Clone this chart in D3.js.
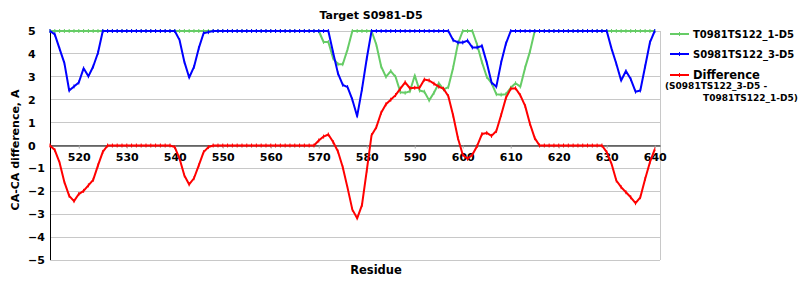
<!DOCTYPE html>
<html>
<head>
<meta charset="utf-8">
<script src="https://cdn.jsdelivr.net/npm/d3@7"></script>
<style>
  body { margin: 0; background: #fff; }
  svg { display: block; font-family: "DejaVu Sans", Verdana, sans-serif; font-weight: bold; }
</style>
</head>
<body>
<div id="chart"></div>
<script>
// residue numbers 514..640
const residues = d3.range(514, 641);

const greenSeries = [
    5, 5, 5, 5, 5, 5,
    5, 5, 5, 5, 5, 5, 5, 5, 5, 5,
    5, 5, 5, 5, 5, 5, 5, 5, 5, 5,
    5, 5, 5, 5, 5, 5, 5, 5, 5, 5,
    5, 5, 5, 5, 5, 5, 5, 5, 5, 5,
    5, 5, 5, 5, 5, 5, 5, 5, 5, 5,
    5, 4.52, 4.52, 3.8, 3.55, 3.55, 4.2, 5, 5, 5,
    5, 5, 4.4, 3.45, 3.0, 3.25, 3.0, 2.33, 2.3, 2.37,
    3.06, 2.4, 2.35, 1.97, 2.3, 2.72, 2.45, 2.55, 3.4, 4.45,
    5, 5, 5, 4.4, 3.64, 3.0, 2.72, 2.24, 2.22, 2.24,
    2.52, 2.72, 2.57, 3.4, 4.1, 5, 5, 5, 5, 5,
    5, 5, 5, 5, 5, 5, 5, 5, 5, 5,
    5, 5, 5, 5, 5, 5, 5, 5, 5, 5,
    5
];

const blueSeries = [
    5, 4.85, 4.22, 3.6, 2.4, 2.58,
    2.75, 3.37, 3.02, 3.45, 4.05, 5, 5, 5, 5, 5,
    5, 5, 5, 5, 5, 5, 5, 5, 5, 5,
    5, 4.6, 3.65, 2.97, 3.43, 4.25, 4.9, 4.95, 5, 5,
    5, 5, 5, 5, 5, 5, 5, 5, 5, 5,
    5, 5, 5, 5, 5, 5, 5, 5, 5, 5,
    5, 5, 5, 4.05, 3.15, 2.65, 2.55, 2.0, 1.28, 2.45,
    3.8, 5, 5, 5, 5, 5, 5, 5, 5, 5,
    5, 5, 5, 5, 5, 5, 5, 5, 4.6, 4.5,
    4.5, 4.58, 4.28, 4.28, 4.35, 3.62, 2.75, 2.57, 3.62, 4.45,
    5, 5, 5, 5, 5, 5, 5, 5, 5, 5,
    5, 5, 5, 5, 5, 5, 5, 5, 5, 5,
    5, 4.23, 3.57, 2.84, 3.25, 2.9, 2.35, 2.4, 3.45, 4.5,
    5
];

const diffSeries = [
    0, -0.2, -0.75, -1.6, -2.2, -2.43,
    -2.12, -1.98, -1.74, -1.5, -0.87, -0.28, 0, 0, 0, 0,
    0, 0, 0, 0, 0, 0, 0, 0, 0, 0,
    -0.07, -0.58, -1.31, -1.7, -1.43, -0.87, -0.29, -0.07, 0, 0,
    0, 0, 0, 0, 0, 0, 0, 0, 0, 0,
    0, 0, 0, 0, 0, 0, 0, 0, 0, 0,
    0.22, 0.39, 0.48, 0.15, -0.26, -0.95, -1.85, -2.8, -3.18, -2.6,
    -1.1, 0.45, 0.8, 1.43, 1.8, 2.0, 2.2, 2.48, 2.76, 2.5,
    2.52, 2.52, 2.88, 2.84, 2.7, 2.57, 2.48, 2.15, 1.31, 0.32,
    -0.4, -0.58, -0.4, -0.02, 0.5, 0.55, 0.42, 0.63, 1.33, 2.08,
    2.48, 2.5, 2.19, 1.73, 0.95, 0.32, 0, 0, 0, 0,
    0, 0, 0, 0, 0, 0, 0, 0, 0, 0,
    -0.29, -0.8, -1.53, -1.82, -2.04, -2.26, -2.52, -2.26, -1.46, -0.73,
    -0.17
];

const xTicks = [520, 530, 540, 550, 560, 570, 580, 590, 600, 610, 620, 630, 640];
const yTicks = [5, 4, 3, 2, 1, 0, -1, -2, -3, -4, -5];

const seriesNames = ["T0981TS122_1-D5", "S0981TS122_3-D5", "Difference"];
const seriesColors = ["#66cc66", "#0000ff", "#ff0000"];

const width = 800, height = 300;
const plot = { left: 50, right: 660, top: 31, bottom: 260 };

const svg = d3.select("#chart").append("svg")
    .attr("width", width)
    .attr("height", height);

const x = d3.scaleLinear().domain([514, 641.1]).range([plot.left, plot.right]);
const y = d3.scaleLinear().domain([-5, 5]).range([plot.bottom, plot.top]);

// horizontal grid
svg.append("g")
    .selectAll("line")
    .data(yTicks)
    .enter()
    .append("line")
    .attr("x1", plot.left)
    .attr("x2", plot.right)
    .attr("y1", d => y(d))
    .attr("y2", d => y(d))
    .attr("stroke", "#c8c8c8")
    .attr("stroke-width", 1)
    .attr("shape-rendering", "crispEdges");

// right border
svg.append("line")
    .attr("x1", plot.right).attr("x2", plot.right)
    .attr("y1", plot.top).attr("y2", plot.bottom)
    .attr("stroke", "#c8c8c8")
    .attr("shape-rendering", "crispEdges");

// y axis labels (left aligned like the original)
svg.append("g")
    .selectAll("text")
    .data(yTicks)
    .enter()
    .append("text")
    .attr("x", 28)
    .attr("y", d => y(d) + 4)
    .style("font-size", "11px")
    .attr("fill", "#000")
    .text(d => d < 0 ? "\u2212" + Math.abs(d) : d);

// x axis sitting on the zero line
const xAxis = svg.append("g")
    .attr("transform", `translate(0, ${y(0)})`)
    .call(d3.axisBottom(x).tickValues(xTicks).tickSize(3).tickSizeOuter(0).tickPadding(5));
xAxis.select(".domain").attr("stroke", "#000");
xAxis.selectAll(".tick line").attr("stroke", "#aaa");
xAxis.selectAll(".tick text")
    .attr("fill", "#000")
    .style("font-family", "'DejaVu Sans', Verdana, sans-serif")
    .style("font-weight", "bold")
    .style("font-size", "11px");

// left axis line
svg.append("line")
    .attr("x1", plot.left).attr("x2", plot.left)
    .attr("y1", plot.top).attr("y2", plot.bottom)
    .attr("stroke", "#000")
    .attr("shape-rendering", "crispEdges");

// series lines
const allSeries = [greenSeries, blueSeries, diffSeries];
const line = d3.line()
    .x((d, i) => x(residues[i]))
    .y(d => y(d));

allSeries.forEach((values, k) => {
    svg.append("path")
        .datum(values)
        .attr("fill", "none")
        .attr("stroke", seriesColors[k])
        .attr("stroke-width", 2)
        .attr("stroke-linejoin", "round")
        .attr("d", line);

    // small tick markers at each point
    svg.append("g")
        .selectAll("line")
        .data(values)
        .enter()
        .append("line")
        .attr("x1", (d, i) => x(residues[i]))
        .attr("x2", (d, i) => x(residues[i]))
        .attr("y1", d => y(d) - 2)
        .attr("y2", d => y(d) + 2)
        .attr("stroke", seriesColors[k])
        .attr("stroke-width", 1);
});

// title
svg.append("text")
    .attr("x", 371)
    .attr("y", 19)
    .attr("text-anchor", "middle")
    .style("font-size", "11px")
    .text("Target S0981-D5");

// axis titles
svg.append("text")
    .attr("x", 376)
    .attr("y", 274)
    .attr("text-anchor", "middle")
    .style("font-size", "11.5px")
    .text("Residue");

svg.append("text")
    .attr("transform", "translate(19, 150) rotate(-90)")
    .attr("text-anchor", "middle")
    .style("font-size", "11px")
    .text("CA-CA difference, A");

// legend
const legendY = [34, 54, 75];
const legend = svg.append("g");
seriesNames.forEach((name, k) => {
    legend.append("line")
        .attr("x1", 670).attr("x2", 689)
        .attr("y1", legendY[k]).attr("y2", legendY[k])
        .attr("stroke", seriesColors[k])
        .attr("stroke-width", 2);
    legend.append("line")
        .attr("x1", 679.5).attr("x2", 679.5)
        .attr("y1", legendY[k] - 2).attr("y2", legendY[k] + 2)
        .attr("stroke", seriesColors[k]);
    legend.append("text")
        .attr("x", 693)
        .attr("y", legendY[k] + (k === 2 ? 4 : 4))
        .style("font-size", k === 2 ? "11.5px" : "10px")
        .text(name);
});
legend.append("text")
    .attr("x", 665)
    .attr("y", 89)
    .style("font-size", "9px")
    .text("(S0981TS122_3-D5 -");
legend.append("text")
    .attr("x", 703)
    .attr("y", 101)
    .style("font-size", "9px")
    .text("T0981TS122_1-D5)");
</script>
</body>
</html>
